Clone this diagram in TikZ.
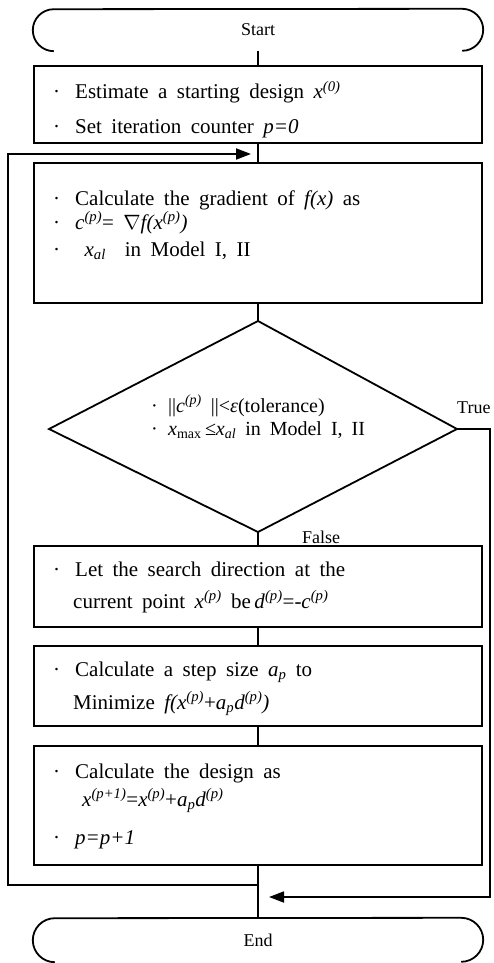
\documentclass[tikz,border=0pt]{standalone}
\usepackage{fontspec}
\setmainfont{Liberation Serif}
\newfontfamily\boxfont{Liberation Serif}[WordSpace=2.2]
\newfontfamily\dfont{Liberation Serif}[WordSpace=1.8]
\usetikzlibrary{arrows.meta}
\newcommand{\sps}[1]{\textsuperscript{\textit{#1}}}
\newcommand{\sbs}[1]{\textsubscript{\textit{#1}}}
\newcommand{\bul}{\makebox[22pt][l]{·}}
\newcommand{\dbul}{\makebox[17pt][l]{·}}
\begin{document}
\begin{tikzpicture}[x=1pt,y=1pt,
  conn/.style={line width=1.8pt},
  arr/.style={line width=1.8pt,-{Triangle[length=15pt,width=11pt]}},
  box/.style={draw,line width=1.8pt,minimum width=448pt,inner sep=0pt},
  term/.style={minimum width=450pt,inner sep=0pt,font=\fontsize{18}{21}\selectfont},
  txt/.style={anchor=base west,inner sep=0pt,font=\boxfont\fontsize{21}{25}\selectfont},
  dtxt/.style={anchor=base west,inner sep=0pt,font=\dfont\fontsize{20}{24}\selectfont},
  lbl/.style={anchor=base west,inner sep=0pt,font=\fontsize{18}{21}\selectfont}]
\useasboundingbox (0,0) rectangle (493,-963);

% terminals
\node[term,minimum height=42pt] (start) at (258,-30) {Start};
\draw[conn] ([xshift=21pt]start.south west) arc[start angle=270,end angle=90,radius=21pt]
  -- ([xshift=-21pt]start.north east) arc[start angle=90,end angle=-90,radius=21pt];
\node[term,minimum height=44pt] (end) at (258,-940) {End};
\draw[conn] ([xshift=22pt]end.south west) arc[start angle=270,end angle=90,radius=22pt]
  -- ([xshift=-22pt]end.north east) arc[start angle=90,end angle=-90,radius=22pt];

% boxes
\node[box,minimum height=77pt] (box1) at (258,-104.5) {};
\node[box,minimum height=140pt] (box2) at (258,-233) {};
\node[box,minimum height=81pt] (box3) at (258,-586.5) {};
\node[box,minimum height=80pt] (box4) at (258,-686) {};
\node[box,minimum height=119pt] (box5) at (258,-805.5) {};

% diamond
\coordinate (dT) at (258,-321);
\coordinate (dR) at (457,-429);
\coordinate (dB) at (258,-532);
\coordinate (dL) at (49,-429);
\draw[line width=1.8pt,line join=miter] (dT) -- (dR) -- (dB) -- (dL) -- cycle;

% texts
\node[txt] (t11) at (53,-99) {\bul Estimate a starting design \textit{x}\sps{(0)}};
\node[txt] (t12) at (53,-134) {\bul Set iteration counter \textit{p=0}};
\node[txt] (t21) at (53,-205) {\bul Calculate the gradient of \textit{f(x)} as};
\node[txt] (t22) at (53,-229) {\bul\textit{c}\sps{(p)}= $\nabla$\textit{f(x}\sps{(p)}\textit{)}};
\node[txt] (t23) at (53,-256) {\bul\ \textit{x}\sbs{al}\ \ in Model I, II};
\node[dtxt] (d1) at (151,-412) {\dbul||\textit{c}\sps{(p)} ||<\textit{ε}(tolerance)};
\node[dtxt] (d2) at (151,-435) {\dbul\textit{x}\textsubscript{max}\,≤\textit{x}\sbs{al} in Model I, II};
\node[txt] (t31) at (53,-576) {\bul Let the search direction at the};
\node[txt] (t32) at (73,-608) {current point \textit{x}\sps{(p)} be\,\textit{d}\sps{(p)}=-\textit{c}\sps{(p)}};
\node[txt] (t41) at (53,-676) {\bul Calculate a step size \textit{a}\sbs{p} to};
\node[txt] (t42) at (73,-709) {Minimize \textit{f(x}\sps{(p)}+\textit{a}\sbs{p}\textit{d}\sps{(p)}\textit{)}};
\node[txt] (t51) at (53,-778) {\bul Calculate the design as};
\node[txt] (t52) at (82,-806) {\textit{x}\sps{(p+1)}=\textit{x}\sps{(p)}+\textit{a}\sbs{p}\textit{d}\sps{(p)}};
\node[txt] (t53) at (53,-844) {\bul\textit{p=p+1}};

% connectors
\draw[conn] (start.south) -- (box1.north);
\draw[conn] (box1.south) -- (box2.north);
\draw[conn] (box2.south) -- (dT);
\draw[conn] (dB) -- (box3.north);
\draw[conn] (box3.south) -- (box4.north);
\draw[conn] (box4.south) -- (box5.north);
\draw[conn] (box5.south) -- (end.north);

\coordinate (loopA) at (258,-885);
\coordinate (loopC) at (8,-154);
\coordinate (loopT) at (251,-154);
\draw[arr] (loopA) -| (loopC) -- (loopT);

\coordinate (rC) at (490,-897);
\coordinate (rT) at (269,-897);
\draw[arr] (dR) -| (rC) -- (rT);

\node[lbl] (true) at (457,-413) {True};
\node[lbl] (false) at (302,-543) {False};
\end{tikzpicture}
\end{document}
